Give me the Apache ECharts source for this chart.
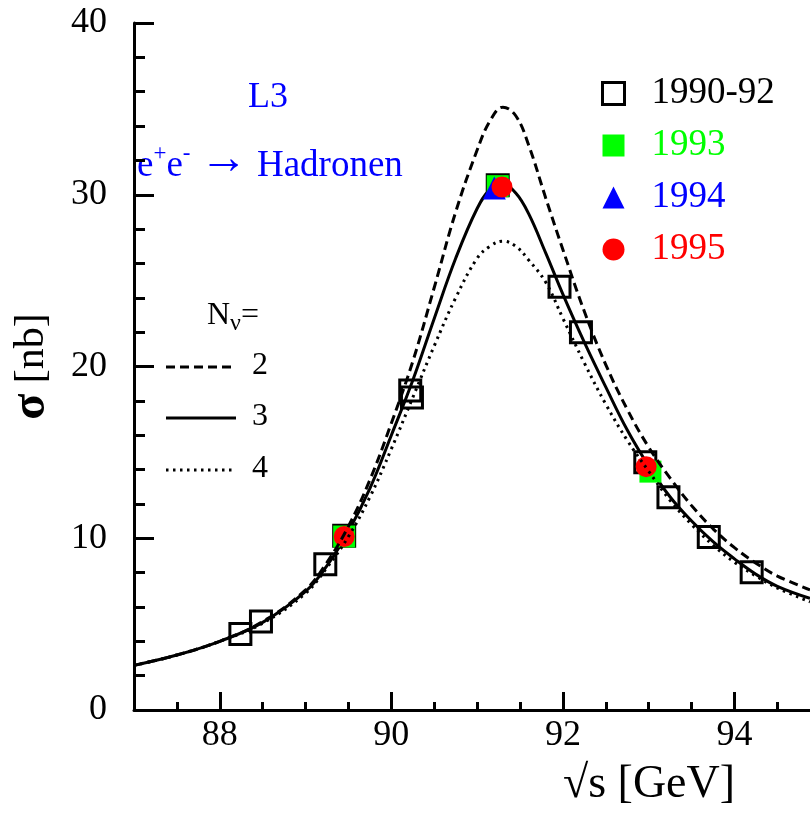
<!DOCTYPE html>
<html>
<head>
<meta charset="utf-8">
<script src="https://cdn.jsdelivr.net/npm/echarts@6/dist/echarts.min.js"></script>
<style>
  html, body { margin: 0; padding: 0; background: #fff; }
  #main { width: 810px; height: 821px; }
</style>
</head>
<body>
<div id="main"></div>
<script>
// Messpunkte (sqrt(s) in GeV, sigma in nb)
var x9092 = [88.24, 88.48, 89.23, 89.45, 90.22, 90.24, 91.24, 91.96, 92.21, 92.96, 93.23, 93.70, 94.20];
var y9092 = [4.42, 5.16, 8.48, 10.15, 18.6, 18.2, 30.55, 24.65, 22.0, 14.42, 12.38, 10.07, 8.02];
var x93 = [89.45, 91.24, 93.02];
var y93 = [10.1, 30.5, 13.88];
var x94 = [91.20];
var y94 = [30.4];
var x95 = [89.45, 91.29, 92.97];
var y95 = [10.1, 30.45, 14.17];

// Kurven fuer N_nu = 2, 3, 4
var curveX = [87.0, 87.5, 88.0, 88.5, 89.0, 89.25, 89.5, 89.75, 90.0, 90.25, 90.5, 90.75, 91.0, 91.15, 91.3, 91.45, 91.6, 91.8, 92.0, 92.25, 92.5, 92.75, 93.0, 93.25, 93.5, 93.75, 94.0, 94.25, 94.5, 94.88];
var sigN2 = [2.6, 3.2, 4.0, 5.15, 7.0, 8.6, 10.7, 13.4, 16.7, 20.3, 24.6, 29.0, 32.6, 34.3, 35.1, 34.6, 32.9, 29.8, 26.8, 23.2, 20.1, 17.5, 15.3, 13.5, 11.9, 10.55, 9.45, 8.55, 7.8, 7.0];
var sigN3 = [2.6, 3.2, 4.0, 5.1, 6.9, 8.4, 10.4, 12.9, 16.0, 19.2, 22.8, 26.3, 29.2, 30.3, 30.6, 30.1, 28.9, 26.6, 24.2, 21.4, 18.8, 16.3, 14.2, 12.4, 11.0, 9.8, 8.8, 7.9, 7.2, 6.5];
var sigN4 = [2.6, 3.2, 4.0, 5.05, 6.8, 8.3, 10.1, 12.4, 15.2, 18.2, 21.2, 24.0, 26.3, 27.0, 27.3, 27.0, 26.2, 24.9, 22.8, 20.2, 17.8, 15.7, 13.9, 12.2, 10.8, 9.6, 8.6, 7.8, 7.1, 6.3];

// Achsen
var xMajor = [88, 90, 92, 94];
var xMinor = [87.5, 88.5, 89, 89.5, 90.5, 91, 91.5, 92.5, 93, 93.5, 94.5];
var yTicks = [0, 10, 20, 30, 40];

function pairs(xs, ys) {
    var out = [];
    for (var i = 0; i < xs.length; i++) out.push([xs[i], ys[i]]);
    return out;
}

var FONT = 'Liberation Serif';
var chart = echarts.init(document.getElementById('main'));

var option = {
    animation: false,
    backgroundColor: '#fff',
    grid: { left: 132, right: 0, top: 23, bottom: 111 },
    xAxis: [
        {
            type: 'value', min: 87, max: 94.88,
            name: '√s [GeV]', nameLocation: 'middle', nameGap: 52,
            nameTextStyle: { fontFamily: FONT, fontSize: 46, color: '#000', padding: [0, 0, 0, 354] },
            axisLine: { onZero: false, lineStyle: { color: '#000', width: 3 } },
            axisTick: { inside: true, length: 18, lineStyle: { color: '#000', width: 3 }, customValues: xMajor },
            axisLabel: { fontFamily: FONT, fontSize: 36, color: '#000', margin: 8, customValues: xMajor },
            splitLine: { show: false }
        },
        {
            type: 'value', min: 87, max: 94.88, position: 'bottom',
            axisLine: { show: false },
            axisTick: { inside: true, length: 8, lineStyle: { color: '#000', width: 3 }, customValues: xMinor },
            axisLabel: { show: false },
            splitLine: { show: false }
        }
    ],
    yAxis: {
        type: 'value', min: 0, max: 40, interval: 10,
        name: '{s|σ} [nb]', nameLocation: 'middle', nameGap: 78,
        nameTextStyle: { fontFamily: FONT, fontSize: 42, color: '#000',
            rich: { s: { fontFamily: FONT, fontSize: 48, fontWeight: 'bold', color: '#000' } } },
        axisLine: { lineStyle: { color: '#000', width: 3 } },
        axisTick: { inside: true, length: 20, lineStyle: { color: '#000', width: 3 } },
        minorTick: { show: true, splitNumber: 5, length: 11, lineStyle: { color: '#000', width: 3 } },
        axisLabel: { fontFamily: FONT, fontSize: 36, color: '#000', margin: 27,
            customValues: yTicks },
        splitLine: { show: false }
    },
    legend: {
        orient: 'vertical', left: 596, top: 70,
        itemWidth: 22, itemHeight: 22, itemGap: 15,
        selectedMode: false,
        textStyle: { fontFamily: FONT, fontSize: 37, padding: [0, 0, 0, 22] },
        data: [
            { name: '1990-92', icon: 'rect', itemStyle: { color: 'rgba(0,0,0,0)', borderColor: '#000', borderWidth: 3 }, textStyle: { color: '#000' } },
            { name: '1993', icon: 'rect', itemStyle: { color: '#00ff00' }, textStyle: { color: '#00ff00' } },
            { name: '1994', icon: 'triangle', itemStyle: { color: '#0000ff' }, textStyle: { color: '#0000ff' } },
            { name: '1995', icon: 'circle', itemStyle: { color: '#ff0000' }, textStyle: { color: '#ff0000' } }
        ]
    },
    series: [
        {
            name: 'N3', type: 'line', data: pairs(curveX, sigN3), smooth: 0.4,
            showSymbol: false, z: 2,
            lineStyle: { color: '#000', width: 3 }
        },
        {
            name: '1990-92', type: 'scatter', data: pairs(x9092, y9092), symbol: 'rect', symbolSize: 21, z: 3,
            itemStyle: { color: 'rgba(0,0,0,0)', borderColor: '#000', borderWidth: 3, opacity: 1 }
        },
        {
            name: '1993', type: 'scatter', data: pairs(x93, y93), symbol: 'rect', symbolSize: 22, z: 4,
            itemStyle: { color: '#00ff00', opacity: 1 }
        },
        {
            name: '1994', type: 'scatter', data: pairs(x94, y94), symbol: 'triangle', symbolSize: 23, z: 5,
            itemStyle: { color: '#0000ff', opacity: 1 }
        },
        {
            name: '1995', type: 'scatter', data: pairs(x95, y95), symbol: 'circle', symbolSize: 21, z: 6,
            itemStyle: { color: '#ff0000', opacity: 1 }
        },
        {
            name: 'N2', type: 'line', data: pairs(curveX, sigN2), smooth: 0.4,
            showSymbol: false, z: 7,
            lineStyle: { color: '#000', width: 3, type: [9, 5] }
        },
        {
            name: 'N4', type: 'line', data: pairs(curveX, sigN4), smooth: 0.4,
            showSymbol: false, z: 7,
            lineStyle: { color: '#000', width: 3, type: [2.5, 4.5] }
        }
    ],
    graphic: [
        { type: 'text', left: 248, top: 80, style: { text: 'L3', fontFamily: FONT, fontSize: 36, fill: '#0000ff' } },
        { type: 'text', left: 137, top: 136, style: {
            text: '{b|e}{p|+}{b|e}{p|-}{b| }{a|→}{b| Hadronen}',
            fontFamily: FONT, fontSize: 37, fill: '#0000ff',
            rich: {
                b: { fontFamily: FONT, fontSize: 37, fill: '#0000ff', verticalAlign: 'bottom' },
                a: { fontFamily: FONT, fontSize: 48, fill: '#0000ff', verticalAlign: 'bottom', padding: [0, 0, 1, 0] },
                p: { fontFamily: FONT, fontSize: 23, fill: '#0000ff', verticalAlign: 'top', padding: [6, 0, 0, 0] }
            }
        } },
        { type: 'text', left: 207, top: 300, style: {
            text: '{n|N}{v|ν}{n|=}', fontFamily: FONT, fill: '#000',
            rich: {
                n: { fontFamily: FONT, fontSize: 32, fill: '#000' },
                v: { fontFamily: FONT, fontSize: 24, fill: '#000', padding: [16, 0, 0, 0] }
            }
        } },
        { type: 'line', shape: { x1: 166, y1: 367, x2: 236, y2: 367 }, style: { stroke: '#000', lineWidth: 3, lineDash: [9, 5] } },
        { type: 'line', shape: { x1: 166, y1: 418, x2: 236, y2: 418 }, style: { stroke: '#000', lineWidth: 3 } },
        { type: 'line', shape: { x1: 166, y1: 470, x2: 236, y2: 470 }, style: { stroke: '#000', lineWidth: 3, lineDash: [2.5, 4.5] } },
        { type: 'text', left: 252, top: 350, style: { text: '2', fontFamily: FONT, fontSize: 32, fill: '#000' } },
        { type: 'text', left: 252, top: 401, style: { text: '3', fontFamily: FONT, fontSize: 32, fill: '#000' } },
        { type: 'text', left: 252, top: 453, style: { text: '4', fontFamily: FONT, fontSize: 32, fill: '#000' } }
    ]
};

chart.setOption(option);
window.onresize = chart.resize;
</script>
</body>
</html>
